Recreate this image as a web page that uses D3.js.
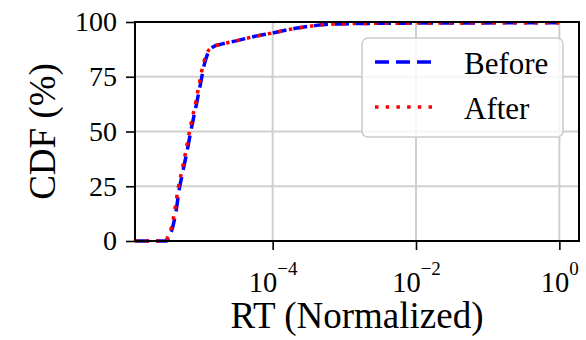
<!DOCTYPE html>
<html>
<head>
<meta charset="utf-8">
<script src="https://cdn.jsdelivr.net/npm/d3@7"></script>
<style>
  html, body { margin: 0; padding: 0; background: #fff; }
  svg { display: block; font-family: 'Liberation Serif', 'Times New Roman', serif; }
</style>
</head>
<body>
<div id="chart"></div>
<script>
// RT (normalized) sample points and CDF percentages
const rtBefore  = [1.2e-6, 3.3e-6, 3.6e-6, 4.0e-6, 4.5e-6, 5.0e-6, 5.6e-6, 6.3e-6, 7.4e-6, 8.7e-6, 1.0e-5, 1.12e-5, 1.26e-5, 1.45e-5, 2.0e-5, 3.2e-5, 5.4e-5, 1e-4, 2e-4, 3.7e-4, 6.3e-4, 1.6e-3, 1e-2, 1e-1, 1];
const cdfBefore = [0, 0, 2, 6, 14, 24, 32, 40, 52, 63, 73, 81, 86, 88.5, 90, 91.5, 93.3, 95, 97, 98.3, 99, 99.3, 99.5, 99.6, 99.7];

const rtAfter  = [1.2e-6, 3.2e-6, 3.45e-6, 3.85e-6, 4.3e-6, 4.8e-6, 5.4e-6, 6.05e-6, 7.1e-6, 8.4e-6, 9.6e-6, 1.08e-5, 1.22e-5, 1.42e-5, 2.0e-5, 3.2e-5, 5.4e-5, 1e-4, 2e-4, 3.7e-4, 6.3e-4, 1.6e-3, 1e-2, 1e-1, 1];
const cdfAfter = [0, 0, 2, 6, 14, 24, 32, 40, 52, 63, 73, 81, 86, 88.5, 90, 91.5, 93.3, 95, 97, 98.3, 99, 99.3, 99.5, 99.6, 99.7];

const xTicks = [1e-4, 1e-2, 1];
const xTickExp = ['\u22124', '\u22122', '0'];
const yTicks = [0, 25, 50, 75, 100];
const xDomain = [1.2e-6, 1.88];

const series = [
  { name: 'Before', xs: rtBefore, ys: cdfBefore, color: '#0000ff', dash: '14,7' },
  { name: 'After',  xs: rtAfter,  ys: cdfAfter,  color: '#ff0000', dash: '3.5,7.2' }
];

const W = 586, H = 340;
const margin = { top: 22, right: 7, bottom: 99, left: 135 };
const width  = W - margin.left - margin.right;
const height = H - margin.top - margin.bottom;

const svg = d3.select('#chart')
  .append('svg')
  .attr('width', W)
  .attr('height', H);

const g = svg.append('g')
  .attr('transform', `translate(${margin.left},${margin.top})`);

const x = d3.scaleLog().domain(xDomain).range([0, width]);
const y = d3.scaleLinear().domain([0, 100]).range([height, 0]);

// grid
g.append('g')
  .selectAll('line.gx')
  .data(xTicks)
  .join('line')
  .attr('x1', d => x(d)).attr('x2', d => x(d))
  .attr('y1', 0).attr('y2', height)
  .attr('stroke', '#d0d0d0')
  .attr('stroke-width', 2);

g.append('g')
  .selectAll('line.gy')
  .data(yTicks)
  .join('line')
  .attr('x1', 0).attr('x2', width)
  .attr('y1', d => y(d)).attr('y2', d => y(d))
  .attr('stroke', '#d0d0d0')
  .attr('stroke-width', 2);

// curves
const line = d3.line()
  .x(d => x(d[0]))
  .y(d => y(d[1]))
  .curve(d3.curveMonotoneX);

series.forEach(s => {
  g.append('path')
    .datum(s.xs.map((v, i) => [v, s.ys[i]]))
    .attr('fill', 'none')
    .attr('stroke', s.color)
    .attr('stroke-width', 3.5)
    .attr('stroke-dasharray', s.dash)
    .attr('d', line);
});

// axes
const yAxis = g.append('g')
  .call(d3.axisLeft(y).tickValues(yTicks).tickSize(9).tickPadding(9));
yAxis.select('.domain').remove();
yAxis.selectAll('.tick line').attr('stroke', '#000').attr('stroke-width', 1.6);
yAxis.selectAll('.tick text')
  .attr('font-family', 'Liberation Serif, serif')
  .attr('font-size', 28)
  .attr('fill', '#000');

const xAxis = g.append('g')
  .attr('transform', `translate(0,${height})`)
  .call(d3.axisBottom(x).tickValues(xTicks).tickSize(9).tickFormat(''));
xAxis.select('.domain').remove();
xAxis.selectAll('.tick line').attr('stroke', '#000').attr('stroke-width', 1.6);

const xLab = xAxis.selectAll('.tick')
  .append('text')
  .attr('y', 50.5)
  .attr('fill', '#000')
  .attr('text-anchor', 'middle')
  .attr('font-family', 'Liberation Serif, serif');
xLab.append('tspan')
  .attr('font-size', 28.5)
  .text('10');
xLab.append('tspan')
  .attr('font-size', 19)
  .attr('dy', -17)
  .text((d, i) => xTickExp[i]);

// spines
g.append('rect')
  .attr('width', width)
  .attr('height', height)
  .attr('fill', 'none')
  .attr('stroke', '#000')
  .attr('stroke-width', 2);

// axis titles
svg.append('text')
  .attr('x', margin.left + width / 2)
  .attr('y', 328)
  .attr('text-anchor', 'middle')
  .attr('font-size', 37)
  .text('RT (Normalized)');

svg.append('text')
  .attr('transform', `translate(55,${margin.top + height / 2}) rotate(-90)`)
  .attr('text-anchor', 'middle')
  .attr('font-size', 37)
  .text('CDF (%)');

// legend
const leg = svg.append('g').attr('transform', 'translate(362,38)');
leg.append('rect')
  .attr('width', 201)
  .attr('height', 99)
  .attr('rx', 6)
  .attr('fill', '#fff')
  .attr('fill-opacity', 0.8)
  .attr('stroke', '#cccccc')
  .attr('stroke-width', 1.5);

series.forEach((s, i) => {
  const ly = 24 + i * 45;
  leg.append('line')
    .attr('x1', 13).attr('x2', 76)
    .attr('y1', ly).attr('y2', ly)
    .attr('stroke', s.color)
    .attr('stroke-width', 3.5)
    .attr('stroke-dasharray', s.dash);
  leg.append('text')
    .attr('x', 102)
    .attr('y', ly + 11.5)
    .attr('font-size', 31)
    .attr('fill', '#000')
    .text(s.name);
});
</script>
</body>
</html>
